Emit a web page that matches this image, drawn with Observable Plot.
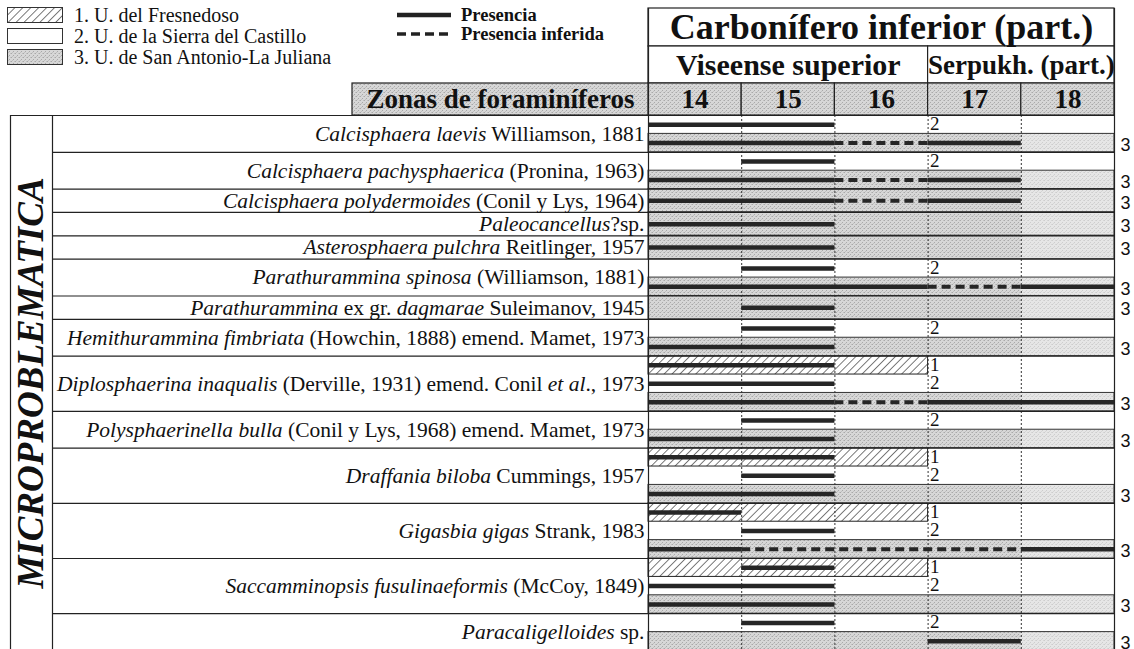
<!DOCTYPE html>
<html><head><meta charset="utf-8">
<script src="https://cdn.jsdelivr.net/npm/d3@7"></script>
<script src="https://cdn.jsdelivr.net/npm/@observablehq/plot@0.6"></script>
<style>
body{margin:0;background:#fff;}
#wrap{position:relative;width:1134px;height:649px;overflow:hidden;background:#fff;}
#legend{position:absolute;left:0;top:0;width:1134px;height:80px;font-family:"Liberation Serif","Times New Roman",serif;color:#111;}
</style></head>
<body><div id="wrap"><div id="chart"></div><div id="legend"></div></div>
<script>
// ---------------- data ----------------
const zones = [14, 15, 16, 17, 18];
const systemHeader = [{label: "Carbonífero inferior (part.)", from: 14, to: 18}];
const stageHeader = [
  {label: "Viseense superior", from: 14, to: 16},
  {label: "Serpukh. (part.)", from: 17, to: 18}
];
const zoneTitle = "Zonas de foraminíferos";
const groupLabel = "MICROPROBLEMATICA";
const unitLegend = ["1. U. del Fresnedoso", "2. U. de la Sierra del Castillo", "3. U. de San Antonio-La Juliana"];
const lineLegend = ["Presencia", "Presencia inferida"];
// zones covered by each lithostratigraphic unit strip
const unitIds = [1, 2, 3];
const unitFrom = [14, 14, 14];
const unitTo = [16, 18, 18];

const species = [
  "*Calcisphaera laevis* Williamson, 1881",
  "*Calcisphaera pachysphaerica* (Pronina, 1963)",
  "*Calcisphaera polydermoides* (Conil y Lys, 1964)",
  "*Paleocancellus*?sp.",
  "*Asterosphaera pulchra* Reitlinger, 1957",
  "*Parathurammina spinosa* (Williamson, 1881)",
  "*Parathurammina* ex gr. *dagmarae* Suleimanov, 1945",
  "*Hemithurammina fimbriata* (Howchin, 1888) emend. Mamet, 1973",
  "*Diplosphaerina inaqualis* (Derville, 1931) emend. Conil *et al*., 1973",
  "*Polysphaerinella bulla* (Conil y Lys, 1968) emend. Mamet, 1973",
  "*Draffania biloba* Cummings, 1957",
  "*Gigasbia gigas* Strank, 1983",
  "*Saccamminopsis fusulinaeformis* (McCoy, 1849)",
  "*Paracaligelloides* sp."
];
// units in which each species is recorded
const speciesUnits = [
  [2, 3], [2, 3], [3], [3], [3], [2, 3], [3], [2, 3],
  [1, 2, 3], [2, 3], [1, 2, 3], [1, 2, 3], [1, 2, 3], [2, 3]
];
// ranges: [species index, unit, first zone, last zone, kind] (P = presencia, I = inferida)
const ranges = [
  [0, 2, 14, 15, "P"],
  [0, 3, 14, 15, "P"], [0, 3, 16, 16, "I"], [0, 3, 17, 17, "P"],
  [1, 2, 15, 15, "P"],
  [1, 3, 14, 15, "P"], [1, 3, 16, 16, "I"], [1, 3, 17, 17, "P"],
  [2, 3, 14, 15, "P"], [2, 3, 16, 16, "I"], [2, 3, 17, 17, "P"],
  [3, 3, 14, 15, "P"],
  [4, 3, 14, 15, "P"],
  [5, 2, 15, 15, "P"],
  [5, 3, 14, 16, "P"], [5, 3, 17, 17, "I"], [5, 3, 18, 18, "P"],
  [6, 3, 15, 15, "P"],
  [7, 2, 15, 15, "P"], [7, 3, 14, 15, "P"],
  [8, 1, 14, 15, "P"], [8, 2, 14, 15, "P"],
  [8, 3, 14, 15, "P"], [8, 3, 16, 16, "I"], [8, 3, 17, 18, "P"],
  [9, 2, 15, 15, "P"], [9, 3, 14, 15, "P"],
  [10, 1, 14, 15, "P"], [10, 2, 15, 15, "P"], [10, 3, 14, 15, "P"],
  [11, 1, 14, 14, "P"], [11, 2, 15, 15, "P"],
  [11, 3, 14, 14, "P"], [11, 3, 15, 17, "I"], [11, 3, 18, 18, "P"],
  [12, 1, 15, 15, "P"], [12, 2, 14, 15, "P"], [12, 3, 14, 15, "P"],
  [13, 2, 15, 15, "P"], [13, 3, 17, 17, "P"]
];

// ---------------- layout ----------------
const W = 1134, H = 649;
const serif = '"Liberation Serif","Times New Roman",serif';
const sans = '"Liberation Sans",Arial,sans-serif';
const zoneLo = d3.min(zones) - 0.5, zoneHi = d3.max(zones) + 0.5;
const unitTagX = unitTo[0] + 0.5;   // numbers 1 and 2 sit right after the end of unit 1 span
const chartLeft = 648, chartRight = 1114, bodyTop = 115, bodyBottom = 650;
const pxPerZone = (chartRight - chartLeft) / zones.length;
const X = p => zoneLo + (p - chartLeft) / pxPerZone;   // page px -> zone units

const SINGLE = 1.27;
let cur = 0;
const strips = [], rowBounds = [0], rowLabels = [];
species.forEach((name, i) => {
  const us = speciesUnits[i];
  const h = us.length === 1 ? SINGLE : 1;
  const top = cur;
  us.forEach(u => {
    const k = unitIds.indexOf(u);
    strips.push({sp: i, unit: u, y1: cur, y2: cur + h, yc: cur + h / 2, from: unitFrom[k], to: unitTo[k]});
    cur += h;
  });
  rowBounds.push(cur);
  rowLabels.push({name, y: (top + cur) / 2});
});
const total = cur;
const uPx = (bodyBottom - bodyTop) / total;
const Yp = p => (p - bodyTop) / uPx;   // page px -> row units
const stripOf = (sp, unit) => strips.find(s => s.sp === sp && s.unit === unit);
const bars = ranges.map(([sp, unit, a, b, kind]) => ({y: stripOf(sp, unit).yc, x1: a - 0.5, x2: b + 0.5, kind}));

const hdr = {sysTop: Yp(8), sysBot: Yp(46), stgBot: Yp(83)};

const chart = Plot.plot({
  width: W, height: H, margin: 0,
  x: {domain: [zoneLo, zoneHi], range: [chartLeft, chartRight], axis: null},
  y: {domain: [0, total], range: [bodyTop, bodyBottom], axis: null},
  style: {fontFamily: serif, background: "white", color: "#111"},
  marks: [
    // header cells
    Plot.rect(systemHeader, {x1: d => d.from - 0.5, x2: d => d.to + 0.5, y1: hdr.sysTop, y2: hdr.sysBot, fill: "white", stroke: "#222", strokeWidth: 1.2}),
    Plot.rect(stageHeader, {x1: d => d.from - 0.5, x2: d => d.to + 0.5, y1: hdr.sysBot, y2: hdr.stgBot, fill: "white", stroke: "#222", strokeWidth: 1.2}),
    Plot.rect(zones, {x1: d => d - 0.5, x2: d => d + 0.5, y1: hdr.stgBot, y2: 0, fill: "url(#stipple)", stroke: "#222", strokeWidth: 1.2}),
    Plot.rect([zoneTitle], {x1: X(352), x2: zoneLo, y1: hdr.stgBot, y2: 0, fill: "url(#stipple)", stroke: "#222", strokeWidth: 1.2}),
    Plot.text(systemHeader, {x: d => (d.from + d.to) / 2, y: (hdr.sysTop + hdr.sysBot) / 2, text: "label", fontSize: 36, fontWeight: "bold"}),
    Plot.text(stageHeader, {x: d => (d.from + d.to) / 2, y: (hdr.sysBot + hdr.stgBot) / 2, text: "label", fontSize: d => d.to - d.from > 1 ? 30 : 27, fontWeight: "bold"}),
    Plot.text(zones, {x: d => d, y: hdr.stgBot / 2, text: d => String(d), fontSize: 27, fontWeight: "bold"}),
    Plot.text([zoneTitle], {x: (X(352) + zoneLo) / 2, y: hdr.stgBot / 2, text: d => d, fontSize: 27, fontWeight: "bold"}),

    // unit strips
    Plot.rect(strips.filter(s => s.unit === 2), {x1: d => d.from - 0.5, x2: d => d.to + 0.5, y1: "y1", y2: "y2", fill: "white"}),
    Plot.rect(strips.filter(s => s.unit === 1), {x1: d => d.from - 0.5, x2: d => d.to + 0.5, y1: "y1", y2: "y2", fill: "url(#hatch)", stroke: "#222", strokeWidth: 1}),
    Plot.rect(strips.filter(s => s.unit === 3), {x1: d => d.from - 0.5, x2: 17.5, y1: "y1", y2: "y2", fill: "url(#stipple)"}),
    Plot.rect(strips.filter(s => s.unit === 3), {x1: 17.5, x2: d => d.to + 0.5, y1: "y1", y2: "y2", fill: "url(#stippleLight)"}),
    Plot.rect(strips.filter(s => s.unit === 3), {x1: d => d.from - 0.5, x2: d => d.to + 0.5, y1: "y1", y2: "y2", fill: "none", stroke: "#333", strokeWidth: 1}),

    // zone boundaries in body
    Plot.ruleX(zones.slice(1).map(z => z - 0.5), {y1: 0, y2: total, stroke: "#333", strokeWidth: 1, strokeDasharray: "2,2"}),

    // ranges
    Plot.ruleY(bars.filter(b => b.kind === "P"), {y: "y", x1: "x1", x2: "x2", stroke: "#262626", strokeWidth: 4.5}),
    Plot.ruleY(bars.filter(b => b.kind === "I"), {y: "y", x1: "x1", x2: "x2", stroke: "#262626", strokeWidth: 4, strokeDasharray: "9,5"}),

    // unit numbers
    Plot.text(strips.filter(s => s.unit !== 3), {x: unitTagX, y: "y1", text: d => String(d.unit), dx: 2, dy: 1, textAnchor: "start", lineAnchor: "top", fontSize: 19}),
    Plot.text(strips.filter(s => s.unit === 3), {x: d => d.to + 0.5, y: "yc", text: d => String(d.unit), dx: 6, dy: 2, textAnchor: "start", fontSize: 18, fontFamily: sans}),

    // frame of label area
    Plot.ruleY(rowBounds, {y: d => d, x1: X(52), x2: zoneHi, stroke: "#222", strokeWidth: 1.2}),
    Plot.ruleY([0], {y: d => d, x1: X(10), x2: zoneHi, stroke: "#222", strokeWidth: 1.2}),
    Plot.ruleX([X(10), X(52)], {x: d => d, y1: 0, y2: total, stroke: "#222", strokeWidth: 1.2}),
    Plot.ruleX([zoneLo, zoneHi], {x: d => d, y1: hdr.sysTop, y2: total, stroke: "#222", strokeWidth: 1.2}),

    // labels
    Plot.text(rowLabels, {x: zoneLo, y: "y", text: "name", dx: -4, textAnchor: "end", fontSize: 21.5}),
    Plot.text([groupLabel], {x: X(31), y: total / 2, text: d => d, rotate: -90, fontSize: 37, fontWeight: "bold", fontStyle: "italic"})
  ]
});

// patterns
const defs = d3.select(chart).insert("defs", ":first-child");
const hatch = defs.append("pattern").attr("id", "hatch").attr("patternUnits", "userSpaceOnUse")
  .attr("width", 5.6).attr("height", 10).attr("patternTransform", "rotate(45)");
hatch.append("rect").attr("width", 5.6).attr("height", 10).attr("fill", "white");
hatch.append("line").attr("x1", 0).attr("x2", 0).attr("y1", 0).attr("y2", 10).attr("stroke", "#222").attr("stroke-width", 1.2);
function stipple(id, bg, dot, dot2) {
  const p = defs.append("pattern").attr("id", id).attr("patternUnits", "userSpaceOnUse").attr("width", 4).attr("height", 4);
  p.append("rect").attr("width", 4).attr("height", 4).attr("fill", bg);
  [[0, 0], [2, 2], [3, 0], [1, 3]].forEach(([a, b], i) => p.append("rect").attr("x", a).attr("y", b).attr("width", 1).attr("height", 1).attr("fill", i < 2 ? dot : dot2));
}
stipple("stipple", "#d7d7d7", "#a9a9a9", "#c0c0c0");
stipple("stippleLight", "#e6e6e6", "#cdcdcd", "#d6d6d6");

// italic parts of species names (marked with *...*)
d3.select(chart).selectAll("text").each(function () {
  const s = this.textContent;
  if (!s.includes("*")) return;
  this.textContent = "";
  s.split("*").forEach((part, i) => {
    if (!part) return;
    d3.select(this).append("tspan").attr("font-style", i % 2 ? "italic" : "normal").text(part);
  });
});
document.getElementById("chart").appendChild(chart);

// ---------------- legend (above the chart area) ----------------
const leg = d3.select("#legend");
const unitFills = ["url(#hatch)", "white", "url(#stipple)"];
unitLegend.forEach((t, i) => {
  const row = leg.append("div").style("position", "absolute").style("left", "7px").style("top", (6 + i * 21) + "px")
    .style("display", "flex").style("align-items", "center").style("height", "19px").style("white-space", "nowrap");
  const s = row.append("svg").attr("width", 57).attr("height", 17).style("margin-right", "10px");
  s.append("rect").attr("x", 0.5).attr("y", 0.5).attr("width", 55).attr("height", 15).attr("fill", unitFills[i]).attr("stroke", "#333");
  row.append("span").style("font-size", "20px").style("line-height", "19px").text(t);
});
lineLegend.forEach((t, i) => {
  const row = leg.append("div").style("position", "absolute").style("left", "397px").style("top", (6 + i * 19) + "px")
    .style("display", "flex").style("align-items", "center").style("height", "18px").style("white-space", "nowrap");
  const s = row.append("svg").attr("width", 54).attr("height", 10).style("margin-right", "10px");
  s.append("line").attr("x1", 0).attr("x2", 54).attr("y1", 5).attr("y2", 5).attr("stroke", "#222")
    .attr("stroke-width", i ? 3.5 : 4.5).attr("stroke-dasharray", i ? "9,5" : null);
  row.append("span").style("font-size", "18.5px").style("font-weight", "bold").style("line-height", "18px").text(t);
});
</script></body></html>
